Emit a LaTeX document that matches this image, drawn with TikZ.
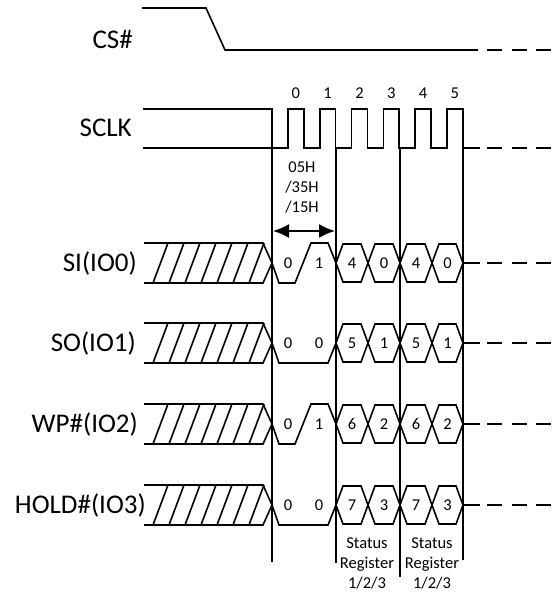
\documentclass[tikz,border=0pt]{standalone}
\usepackage{fontspec}
\setmainfont{Carlito}
\usetikzlibrary{arrows.meta,positioning}

\begin{document}
\begin{tikzpicture}[x=1pt,y=-1pt]

  \tikzset{sig label/.style={anchor=east, inner sep=0pt,
  		font=\fontsize{27}{30}\selectfont}, }
  \tikzset{small label/.style={inner sep=0pt, align=center,
  		font=\fontsize{16.5}{20}\selectfont}, }
  \tikzset{wave/.style={line width=1.6pt, line join=miter}, }
  \tikzset{marker/.style={line width=1.2pt}, }
  \tikzset{tail/.style={line width=1.6pt, dash pattern=on 15pt off 9.5pt}, }
  \tikzset{linea/.style={{Latex[length=16pt,width=14pt]}-{Latex[length=16pt,width=14pt]}, line width=1.6pt}, }
\useasboundingbox (0,0) rectangle (558,592);

\node[sig label] (1) at (133,39)  {CS\#};
\node[sig label] (2) at (132,128) {SCLK};
\node[sig label] (3) at (137,263) {SI(IO0)};
\node[sig label] (4) at (136,343) {SO(IO1)};
\node[sig label] (5) at (138,424) {WP\#(IO2)};
\node[sig label] (6) at (146,505) {HOLD\#(IO3)};

% CS# and SCLK
\draw[wave] (142,8) -- (206,8) -- (225,50) -- (478,50);
\draw[tail] (487,50) -- (558,50);
\draw[wave] (143,148) -- (272,148);
\draw[wave] (143,109) -- (272,109) -- (272,148)
  foreach \k in {0,...,5} { -- ++(15.9,0) -- ++(0,-39) -- ++(15.9,0) -- ++(0,39) } -- (480,148);
\draw[tail] (487,148) -- (558,148);
\foreach \k in {0,...,5}
  \node[small label] (c\k) at ({295.85+31.8*\k},93) {\k};

\foreach \x /\y in {272/562,336/563,400/577,463/560}
  \draw[marker] (\x,148) -- (\x,\y);

\coordinate (a1) at (273,231);
\coordinate (a2) at (335,231);
\draw[linea] (a1) -- (a2);
\node[small label] (7) at (302,187) {05H\\/35H\\/15H};

% data lines
\foreach \c /\hi /\lo /\b in {263/4/0/1,343/5/1/0,424/6/2/1,505/7/3/0} {
  \draw[wave] (144,\c-20) -- (263,\c-20) -- (272,\c) -- (263,\c+20) -- (144,\c+20);
  \foreach \k in {0,...,6}
    \draw[wave] ({153+16*\k},\c+20) -- ({168+16*\k},\c-20);
  \foreach \a /\e /\t in {336/368/\hi,368/400/\lo,400/432/\hi,432/463/\lo} {
    \draw[wave] (\a,\c) -- (\a+7,\c-19) -- (\e-7,\c-19) -- (\e,\c)
      -- (\e-7,\c+19) -- (\a+7,\c+19) -- cycle;
    \node[small label] at ({(\a+\e)/2},\c) {\t};
  }
  \node[small label] at (288,\c) {0};
  \node[small label] at (319,\c) {\b};
  \draw[wave] (463,\c) -- (480,\c);
  \draw[tail] (487,\c) -- (558,\c);
}
\foreach \c in {263,424}
  \draw[wave] (272,\c) -- (279,\c+20) -- (295,\c+20) -- (311,\c-20) -- (328,\c-20) -- (336,\c);
\foreach \c in {343,505}
  \draw[wave] (272,\c) -- (279,\c+20) -- (328,\c+20) -- (336,\c);

\node[small label] (8) at (367,563) {Status\\Register\\1/2/3};
\node[small label] (9) at (432,563) {Status\\Register\\1/2/3};
%%
\end{tikzpicture}
\end{document}
